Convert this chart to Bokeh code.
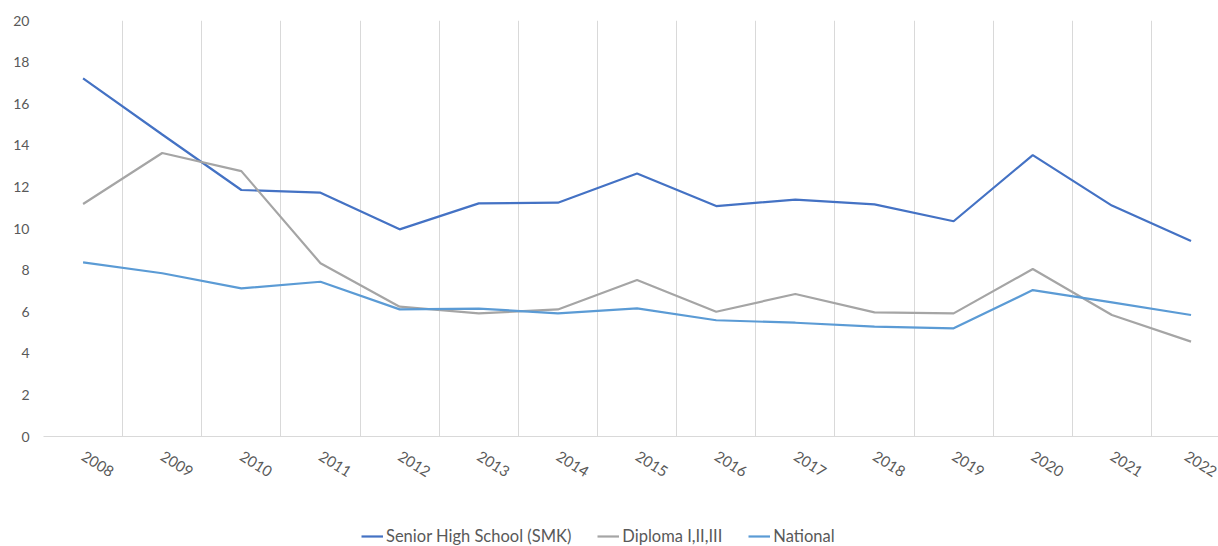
import math
from bokeh.plotting import figure
from bokeh.layouts import column
from bokeh.models import Range1d, FixedTicker, Legend, LegendItem
from bokeh.embed import file_html
from bokeh.resources import INLINE

years = [2008, 2009, 2010, 2011, 2012, 2013, 2014, 2015, 2016, 2017, 2018, 2019, 2020, 2021, 2022]
smk = [17.22, 14.52, 11.85, 11.72, 9.96, 11.21, 11.24, 12.64, 11.08, 11.39, 11.16, 10.35, 13.53, 11.10, 9.40]
diploma = [11.18, 13.63, 12.76, 8.33, 6.24, 5.92, 6.11, 7.52, 6.00, 6.85, 5.97, 5.92, 8.05, 5.84, 4.56]
national = [8.37, 7.85, 7.12, 7.44, 6.11, 6.15, 5.92, 6.16, 5.59, 5.47, 5.28, 5.20, 7.04, 6.45, 5.84]

series_names = ["Senior High School (SMK)", "Diploma I,II,III", "National"]
series_colors = ["#4472C4", "#A5A5A5", "#5B9BD5"]
y_ticks = list(range(0, 21, 2))

FONT = "Lato"

p = figure(
    frame_width=1175, frame_height=416,
    min_border_left=43, min_border_right=0, min_border_top=20, min_border_bottom=70,
    output_backend="svg", toolbar_location=None,
    x_range=Range1d(years[0] - 0.5, years[0] - 0.5 + 14.847),
    y_range=Range1d(0, 20),
)
p.outline_line_color = None
p.background_fill_color = "white"
p.border_fill_color = "white"

all_series = [smk, diploma, national]
for vals, col in zip(all_series, series_colors):
    p.line(years, vals, line_color=col, line_width=2.2)

# x axis
p.xaxis.ticker = FixedTicker(ticks=years)
p.xaxis.major_label_overrides = {y: str(y) for y in years}
p.xaxis.axis_line_color = "#D9D9D9"
p.xaxis.axis_line_width = 1
p.xaxis.major_tick_line_color = None
p.xaxis.minor_tick_line_color = None
p.xaxis.major_tick_out = 0
p.xaxis.major_label_orientation = -math.radians(32)
p.xaxis.major_label_standoff = 18
p.xaxis.major_label_text_font = FONT
p.xaxis.major_label_text_font_size = "15px"
p.xaxis.major_label_text_color = "#595959"

# y axis
p.yaxis.ticker = FixedTicker(ticks=y_ticks)
p.yaxis.axis_line_color = None
p.yaxis.major_tick_line_color = None
p.yaxis.minor_tick_line_color = None
p.yaxis.major_tick_out = 0
p.yaxis.major_label_standoff = 14
p.yaxis.major_label_text_font = FONT
p.yaxis.major_label_text_font_size = "14px"
p.yaxis.major_label_text_color = "#595959"

# grids
p.ygrid.grid_line_color = None
p.xgrid.ticker = FixedTicker(ticks=[y - 0.5 for y in years])
p.xgrid.grid_line_color = "#D9D9D9"
p.xgrid.grid_line_width = 1

# legend strip below the chart (its lines sit outside the strip's visible range)
q = figure(
    width=1218, height=40, min_border=0,
    x_axis_location=None, y_axis_location=None,
    output_backend="svg", toolbar_location=None,
    x_range=Range1d(0, 1), y_range=Range1d(0, 1),
)
q.outline_line_color = None
q.grid.visible = False
q.background_fill_color = "white"
q.border_fill_color = "white"

legend_renderers = [q.line(years, vals, line_color=c, line_width=2.2)
                    for vals, c in zip(all_series, series_colors)]
legend = Legend(
    items=[LegendItem(label=n, renderers=[r]) for n, r in zip(series_names, legend_renderers)],
    orientation="horizontal",
    location=(318, 0),
    border_line_color=None,
    background_fill_alpha=0,
    padding=0, margin=0,
    spacing=26,
    glyph_width=22, label_standoff=3,
    label_text_font=FONT, label_text_font_size="16.5px", label_text_color="#595959",
)
q.add_layout(legend, "center")

layout = column(p, q, spacing=0)
open("out.html", "w").write(file_html(layout, INLINE))
